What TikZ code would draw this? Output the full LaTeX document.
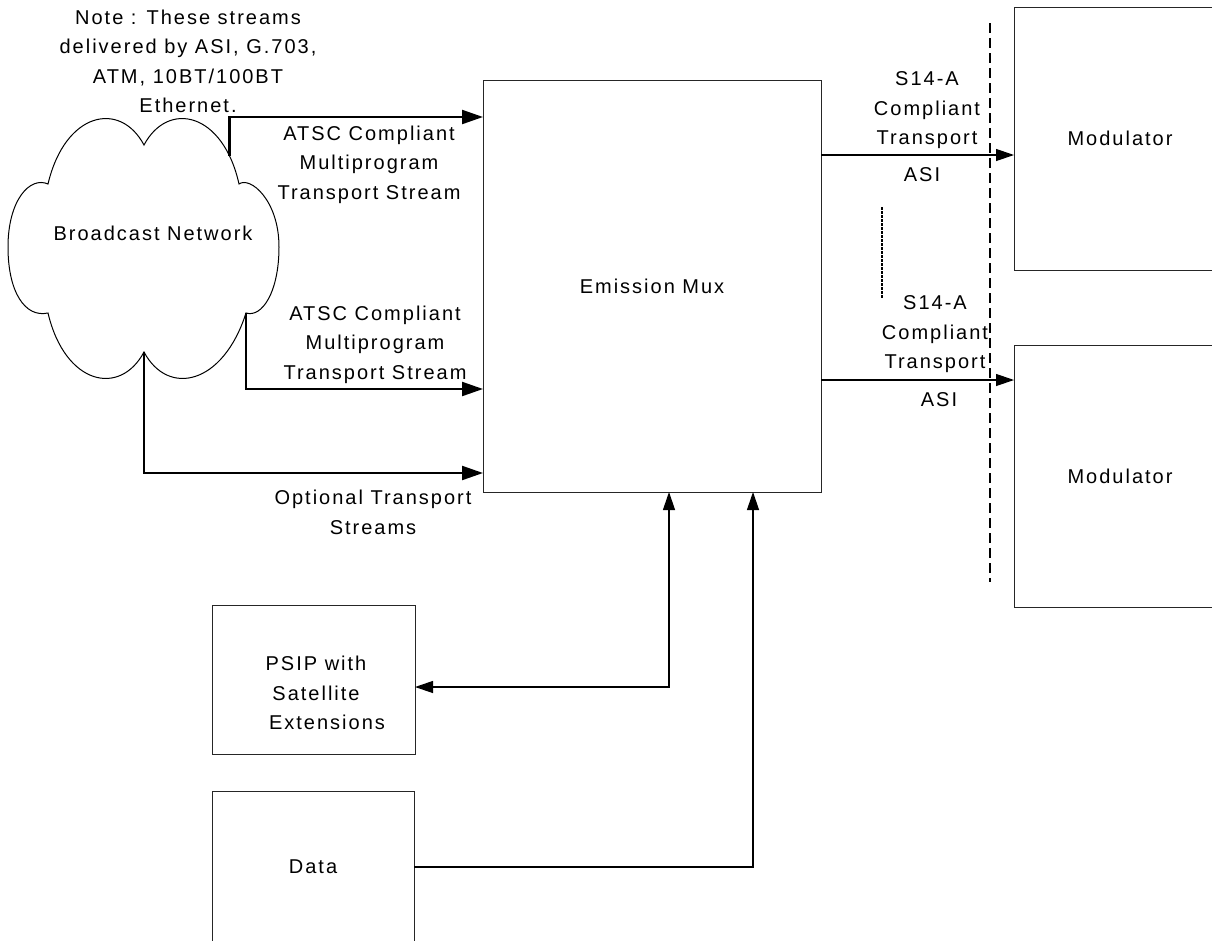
\documentclass[tikz,border=0pt]{standalone}
\usepackage{fontspec}
\setmainfont{Liberation Sans}[LetterSpace=10]
\usetikzlibrary{arrows.meta,calc}
\begin{document}
\begin{tikzpicture}[x=1pt,y=-1pt,
  every node/.style={font=\fontsize{20}{29.5}\selectfont, inner sep=0pt, outer sep=0pt},
  box/.style={draw=black!85, line width=1pt, rectangle},
  lbl/.style={align=center, anchor=north},
  thk/.style={line width=2.2pt, -{Triangle[length=21pt,width=14pt]}},
  thn/.style={line width=1.2pt, -{Triangle[length=18pt,width=12pt]}},
  thnb/.style={line width=1.2pt, {Triangle[length=18pt,width=12pt]}-{Triangle[length=18pt,width=12pt]}},
]
\useasboundingbox (0,0) rectangle (1212,940);

% boxes
\node[box, minimum width=338pt, minimum height=412pt] (mux) at (652,286) {Emission Mux};
\node[box, minimum width=212pt, minimum height=263pt] (mod1) at (1120,138.5) {Modulator};
\node[box, minimum width=212pt, minimum height=262pt] (mod2) at (1120,476) {Modulator};
\node[box, minimum width=203pt, minimum height=149pt] (psip) at (313.5,679.5) {};
\node[lbl] (psiptxt) at (316,656) {PSIP with\\Satellite\\\hspace*{22pt}Extensions};
\node[box, minimum width=202pt, minimum height=152pt] (data) at (313,867) {Data};

% cloud
\draw[line width=1pt] (48,184) .. controls (65,112) and (120,100) .. (144,145)
  .. controls (168,100) and (223,112) .. (239,184)
  .. controls (250,176) and (279,200) .. (279,247)
  .. controls (279,292) and (262,318) .. (246,313)
  .. controls (223,385) and (168,397) .. (144,352)
  .. controls (120,397) and (65,385) .. (48,313)
  .. controls (25,318) and (8,292) .. (8,247)
  .. controls (8,200) and (30,176) .. (48,184) -- cycle;
\node (cloud) at (153,233) {Broadcast Network};
\coordinate (c1) at (229.4,155.6);
\coordinate (c2) at (246,313);
\coordinate (c3) at (144,352);

% labels
\node[lbl] (note) at (188,10) {Note : These streams\\delivered by ASI, G.703,\\ATM, 10BT/100BT\\Ethernet.};
\node[lbl] (l1) at (369,126) {ATSC Compliant\\Multiprogram\\Transport Stream};
\node[lbl] (l2) at (375,306) {ATSC Compliant\\Multiprogram\\Transport Stream};
\node[lbl] (l3) at (373,490) {Optional Transport\\Streams};
\node[lbl] (s1) at (927,72) {S14-A\\Compliant\\Transport};
\node[lbl] (a1) at (922,168) {ASI};
\node[lbl] (s2) at (935,296) {S14-A\\Compliant\\Transport};
\node[lbl] (a2) at (939,393) {ASI};

% input arrows
\draw[thk] (c1) |- ([yshift=-37pt]mux.north west);
\draw[thk] (c2) |- ([yshift=103pt]mux.south west);
\draw[thk] (c3) |- ([yshift=19pt]mux.south west);

% output arrows
\coordinate (o1) at ([yshift=-75pt]mux.north east);
\coordinate (o2) at ([yshift=112pt]mux.south east);
\draw[thn] (o1) -- (o1 -| mod1.west);
\draw[thn] (o2) -- (o2 -| mod2.west);

% bottom connectors
\coordinate (b1) at ([xshift=186pt]mux.south west);
\coordinate (b2) at ([xshift=270pt]mux.south west);
\draw[thnb] (b1) |- ([yshift=-7.5pt]psip.east);
\draw[thn] (data.east) -| (b2);

% separators
\draw[line width=1.3pt, dash pattern=on 10pt off 5pt] (990,23) -- (990,582);
\draw[line width=1.3pt, dash pattern=on 2.5pt off 1.5pt] (882,207) -- (882,298);
\end{tikzpicture}
\end{document}
